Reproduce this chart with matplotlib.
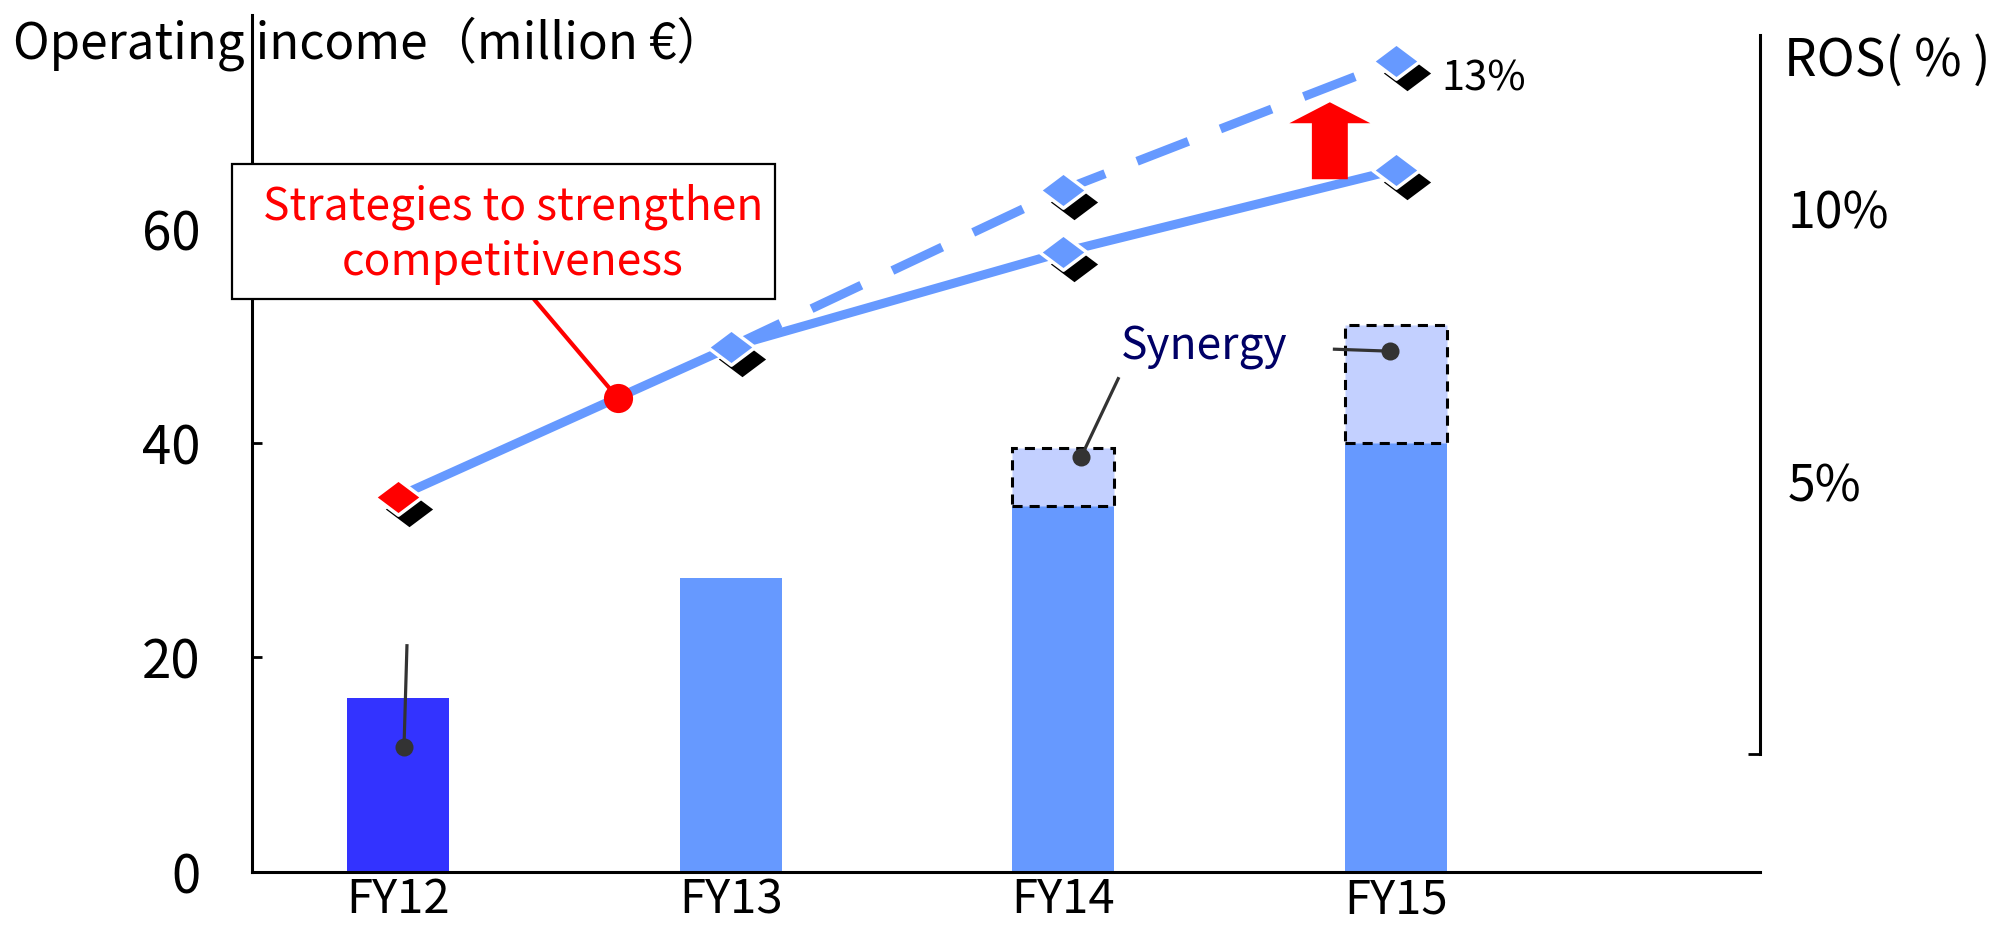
import numpy as np
import matplotlib
matplotlib.use("Agg")
import matplotlib.pyplot as plt
import matplotlib.transforms as mtransforms
from matplotlib.path import Path
from matplotlib.patches import Rectangle, FancyArrow

# ---- data -------------------------------------------------------------
years = ["FY12", "FY13", "FY14", "FY15"]
base_income = [16.2, 27.4, 34.1, 40.0]          # million EUR
synergy_income = [0.0, 0.0, 5.5, 11.0]          # million EUR on top of base
ros_plan = [4.72, 7.47, 9.21, 10.72]            # % (solid line)
ros_target = [7.47, 10.35, 12.72]               # % FY13-FY15 (dashed line)
ros_ticks = [5, 10]
ros_tick_labels = ["5%", "10%"]
income_ticks = [0, 20, 40, 60]

plt.rcParams["font.family"] = ["Noto Sans CJK JP", "DejaVu Sans"]

BLUE = "#6699FF"
DARK_BLUE = "#3333FF"
LIGHT_BLUE = "#C3D0FF"
LEADER = "#333333"
FS = 36

fig = plt.figure(figsize=(19.95, 9.25), dpi=100)
ax = fig.add_axes([0.1263, 0.0578, 0.7559, 0.926])
x = np.arange(len(years))

ax.set_xlim(-0.439, 4.094)
ax.set_ylim(0, 80)

# bars
bar_w = 0.307
bar_colors = [DARK_BLUE] + [BLUE] * (len(years) - 1)
ax.bar(x, base_income, width=bar_w, color=bar_colors, zorder=2)
syn_idx = [i for i, v in enumerate(synergy_income) if v > 0]
ax.bar(x[syn_idx], [synergy_income[i] for i in syn_idx], width=bar_w,
       bottom=[base_income[i] for i in syn_idx], color=LIGHT_BLUE,
       edgecolor="black", linewidth=2.2, linestyle=(0, (3.3, 2.3)), zorder=2)

# axes styling (left / bottom)
for s in ("top", "right"):
    ax.spines[s].set_visible(False)
for s in ("left", "bottom"):
    ax.spines[s].set_linewidth(2.2)
ax.set_yticks(income_ticks)
ax.tick_params(axis="y", direction="in", length=7, width=2, pad=37, labelsize=38)
ax.set_xticks(x)
ax.set_xticklabels(years)
ax.tick_params(axis="x", length=0, pad=3, labelsize=34)

# ROS axis
ax2 = ax.twinx()
ax2.set_ylim(-2.16, 13.56)
for s in ("top", "left", "bottom"):
    ax2.spines[s].set_visible(False)
ax2.spines["right"].set_linewidth(2.2)
ax2.spines["right"].set_bounds(0, 13.2)
ax2.set_yticks(ros_ticks)
ax2.set_yticklabels(ros_tick_labels)
ax2.set_yticks([0], minor=True)
ax2.tick_params(axis="y", which="major", length=0, pad=20, labelsize=FS)
ax2.tick_params(axis="y", which="minor", direction="in", length=9, width=2)

# ROS lines
ax2.plot(x, ros_plan, color=BLUE, lw=6.5, solid_capstyle="butt", zorder=3)
ax2.plot(x[1:], ros_target, color=BLUE, lw=6.5, dashes=(6.1, 3.8),
         dash_capstyle="butt", zorder=3)

# flattened diamond markers with a dark drop shadow
rhombus = Path([(-1, 0), (0, 0.75), (1, 0), (0, -0.75), (-1, 0)],
               [Path.MOVETO, Path.LINETO, Path.LINETO, Path.LINETO, Path.CLOSEPOLY])
shadow_tr = mtransforms.offset_copy(ax2.transData, fig=fig, x=11, y=-12, units="dots")
pts_x = list(x) + list(x[2:])
pts_y = list(ros_plan) + list(ros_target[1:])
pt_colors = ["red"] + [BLUE] * (len(pts_x) - 1)
for px, py, pc in zip(pts_x, pts_y, pt_colors):
    ax2.plot([px], [py], marker=rhombus, ms=34, mfc="black", mec="black",
             mew=0, ls="none", transform=shadow_tr, zorder=4, clip_on=False)
    ax2.plot([px], [py], marker=rhombus, ms=34, mfc=pc, mec="white",
             mew=2.5, ls="none", zorder=5, clip_on=False)

ax2.text(3.135, 12.39, "13%", fontsize=30, ha="left", va="center")

# strategy call-out
dot_x = 0.66
dot_y = np.interp(dot_x, x, ros_plan)
ax2.plot([dot_x], [dot_y], "o", ms=21, color="red", mec="none", zorder=6)
ax2.annotate("", xy=(dot_x, dot_y), xytext=(0.409, 53.45), textcoords=ax.transData,
             arrowprops=dict(arrowstyle="-", color="red", lw=3.0, shrinkA=0, shrinkB=0),
             zorder=6)
box = Rectangle((-0.50, 53.45), 1.633, 12.61, transform=ax.transData,
                facecolor="white", edgecolor="black", lw=1.6, zorder=7, clip_on=False)
ax2.add_patch(box)
ax2.text(0.346, 59.5, "Strategies to strengthen\ncompetitiveness", transform=ax.transData,
         color="red", fontsize=32, ha="center", va="center", linespacing=1.26, zorder=8)

# upward arrow between the two ROS paths
ax2.add_patch(FancyArrow(2.801, 64.66, 0, 7.19, width=0.108, head_width=0.2435,
                         head_length=1.96, length_includes_head=True,
                         transform=ax.transData, color="red", lw=0, zorder=6))

# synergy label and leaders
ax.text(2.423, 48.97, "Synergy", color="#000066", fontsize=32, ha="center", va="center", zorder=6)
leaders = [((2.167, 46.17), (2.053, 38.70)),
           ((2.810, 48.79), (2.982, 48.60)),
           ((0.027, 21.24), (0.018, 11.62))]
for (x0, y0), (x1, y1) in leaders:
    ax.plot([x0, x1], [y0, y1], color=LEADER, lw=2.3, solid_capstyle="butt", zorder=5)
    ax.plot([x1], [y1], "o", ms=13, color=LEADER, mec="none", zorder=5)

# axis titles
fig.text(13 / 1995, 1 - 44 / 925, "Operating income（million €）", fontsize=35.5,
         ha="left", va="center")
fig.text(1784 / 1995, 1 - 61 / 925, "ROS( % )", fontsize=37, ha="left", va="center")

fig.savefig("out.png", dpi=100)
